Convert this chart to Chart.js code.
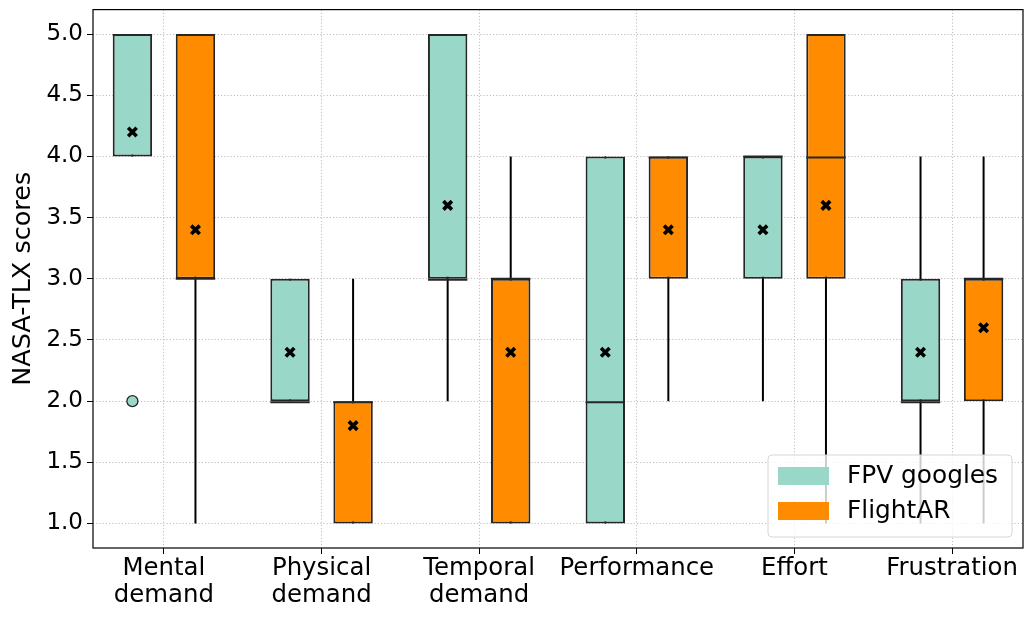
<!DOCTYPE html>
<html>
<head>
<meta charset="utf-8">
<script src="https://cdn.jsdelivr.net/npm/chart.js@4"></script>
<style>
    html, body { margin: 0; padding: 0; background: #fff; }
    #wrap { width: 1033px; height: 620px; position: relative; }
</style>
</head>
<body>
<div id="wrap"><canvas id="tlxChart"></canvas></div>
<script>
// NASA-TLX box plot data
const categories = [['Mental', 'demand'], ['Physical', 'demand'], ['Temporal', 'demand'], 'Performance', 'Effort', 'Frustration'];
const seriesNames = ['FPV googles', 'FlightAR'];

const fpvQ1 = [4, 2, 3, 1, 3, 2];
const fpvQ3 = [5, 3, 5, 4, 4, 3];
const fpvMedian = [5, 2, 3, 2, 4, 2];
const fpvLow = [4, 2, 2, 1, 2, 1];
const fpvHigh = [5, 3, 5, 4, 4, 4];
const fpvMean = [4.2, 2.4, 3.6, 2.4, 3.4, 2.4];
const fpvOutliers = [[2], [], [], [], [], []];

const arQ1 = [3, 1, 1, 3, 3, 2];
const arQ3 = [5, 2, 3, 4, 5, 3];
const arMedian = [3, 2, 3, 4, 4, 3];
const arLow = [1, 1, 1, 2, 1, 1];
const arHigh = [5, 3, 4, 4, 5, 4];
const arMean = [3.4, 1.8, 2.4, 3.4, 3.6, 2.6];
const arOutliers = [[], [], [], [], [], []];

const yTicks = [1.0, 1.5, 2.0, 2.5, 3.0, 3.5, 4.0, 4.5, 5.0];

const FPV_COLOR = '#99d8c9';
const AR_COLOR = '#ff8c00';
const EDGE = '#262626';
const CAT_PCT = 0.8;
const BAR_PCT = 0.625;
const groupOffset = CAT_PCT / 4;
const FONT = "'DejaVu Sans', sans-serif";

function pairs(a, b) {
    return a.map((v, i) => ({ x: i, y: [v, b[i]] }));
}

function shifted(values, dx) {
    return values.map((v, i) => ({ x: i + dx, y: v }));
}

function outlierPoints(list, dx) {
    const pts = [];
    list.forEach((vals, i) => vals.forEach(v => pts.push({ x: i + dx, y: v })));
    return pts;
}

const barCommon = {
    type: 'bar',
    categoryPercentage: CAT_PCT,
    barPercentage: BAR_PCT
};

// Legend drawn inside the plot, bottom right
const insideLegend = {
    id: 'insideLegend',
    afterDraw(chart) {
        const { ctx, chartArea } = chart;
        const entries = [
            { label: seriesNames[0], color: FPV_COLOR },
            { label: seriesNames[1], color: AR_COLOR }
        ];
        const w = 244, h = 82;
        const x = chartArea.right - 11 - w;
        const y = chartArea.bottom - 11 - h;
        ctx.save();
        ctx.beginPath();
        ctx.roundRect(x, y, w, h, 4);
        ctx.fillStyle = 'rgba(255,255,255,0.8)';
        ctx.fill();
        ctx.strokeStyle = '#d6d6d6';
        ctx.lineWidth = 1;
        ctx.stroke();
        ctx.font = '24.8px ' + FONT;
        ctx.textBaseline = 'middle';
        entries.forEach((e, i) => {
            const cy = y + 21 + i * 35;
            ctx.fillStyle = e.color;
            ctx.fillRect(x + 10, cy - 9, 51, 18);
            ctx.fillStyle = '#000';
            ctx.fillText(e.label, x + 79, cy + 1);
        });
        ctx.restore();
    }
};

// Full frame round the plot area
const frame = {
    id: 'frame',
    afterDatasetsDraw(chart) {
        const { ctx, chartArea } = chart;
        ctx.save();
        ctx.strokeStyle = '#000';
        ctx.lineWidth = 1.2;
        ctx.strokeRect(chartArea.left, chartArea.top, chartArea.right - chartArea.left, chartArea.bottom - chartArea.top);
        ctx.restore();
    }
};

const gridCommon = {
    color: '#b0b0b0',
    lineWidth: 0.8,
    drawTicks: true,
    tickLength: 6,
    tickColor: '#000',
    tickWidth: 1,
    tickBorderDash: []
};

// grid lines are dotted through border.dash in Chart.js v4
const borderCommon = { display: false, dash: [1.2, 2] };

new Chart(document.getElementById('tlxChart'), {
    data: {
        datasets: [
            // whiskers
            { ...barCommon, label: 'fpv whisker', stack: 'fpv', order: 4, data: pairs(fpvLow, fpvHigh),
              backgroundColor: '#000', borderWidth: 0, maxBarThickness: 2 },
            { ...barCommon, label: 'ar whisker', stack: 'ar', order: 4, data: pairs(arLow, arHigh),
              backgroundColor: '#000', borderWidth: 0, maxBarThickness: 2 },
            // boxes
            { ...barCommon, label: seriesNames[0], stack: 'fpv', order: 3, data: pairs(fpvQ1, fpvQ3),
              backgroundColor: FPV_COLOR, borderColor: EDGE, borderWidth: 2, borderSkipped: false },
            { ...barCommon, label: seriesNames[1], stack: 'ar', order: 3, data: pairs(arQ1, arQ3),
              backgroundColor: AR_COLOR, borderColor: EDGE, borderWidth: 2, borderSkipped: false },
            // medians (zero-length bars, centred on the median through base + minBarLength)
            { ...barCommon, label: 'fpv median', stack: 'fpv', order: 2, data: pairs(fpvMedian, fpvMedian),
              base: fpvMedian, backgroundColor: EDGE, borderWidth: 0, minBarLength: 2 },
            { ...barCommon, label: 'ar median', stack: 'ar', order: 2, data: pairs(arMedian, arMedian),
              base: arMedian, backgroundColor: EDGE, borderWidth: 0, minBarLength: 2 },
            // outliers
            { type: 'scatter', label: 'fpv outliers', order: 1, data: outlierPoints(fpvOutliers, -groupOffset),
              pointStyle: 'circle', pointRadius: 5.5, backgroundColor: FPV_COLOR, borderColor: EDGE, borderWidth: 1.3 },
            { type: 'scatter', label: 'ar outliers', order: 1, data: outlierPoints(arOutliers, groupOffset),
              pointStyle: 'circle', pointRadius: 5.5, backgroundColor: AR_COLOR, borderColor: EDGE, borderWidth: 1.3 },
            // means
            { type: 'scatter', label: 'fpv mean', order: 0, data: shifted(fpvMean, -groupOffset),
              pointStyle: 'crossRot', pointRadius: 6, borderColor: '#000', borderWidth: 3.6 },
            { type: 'scatter', label: 'ar mean', order: 0, data: shifted(arMean, groupOffset),
              pointStyle: 'crossRot', pointRadius: 6, borderColor: '#000', borderWidth: 3.6 }
        ]
    },
    options: {
        responsive: true,
        maintainAspectRatio: false,
        animation: false,
        layout: { padding: { top: 9, right: 10, left: 0, bottom: 0 } },
        plugins: {
            legend: { display: false },
            tooltip: { enabled: false }
        },
        scales: {
            x: {
                type: 'linear',
                min: -0.45,
                max: 5.45,
                offset: false,
                grid: { ...gridCommon, offset: false },
                border: borderCommon,
                afterFit: scale => { scale.height = 72; },
                ticks: {
                    stepSize: 1,
                    includeBounds: false,
                    autoSkip: false,
                    maxRotation: 0,
                    padding: 1,
                    color: '#000',
                    font: { family: FONT, size: 24.4, lineHeight: 1.12 },
                    callback: value => categories[value]
                }
            },
            y: {
                type: 'linear',
                min: 0.8,
                max: 5.2,
                stacked: false,
                grid: gridCommon,
                border: borderCommon,
                afterFit: scale => { scale.width = 93; },
                afterBuildTicks: scale => { scale.ticks = yTicks.map(v => ({ value: v })); },
                ticks: {
                    padding: 4,
                    color: '#000',
                    font: { family: FONT, size: 23, lineHeight: 0.4 },
                    callback: value => value.toFixed(1)
                },
                title: {
                    display: true,
                    text: 'NASA-TLX scores',
                    color: '#000',
                    font: { family: FONT, size: 25.5 },
                    padding: { top: 8, bottom: 0 }
                }
            }
        }
    },
    plugins: [frame, insideLegend]
});
</script>
</body>
</html>
